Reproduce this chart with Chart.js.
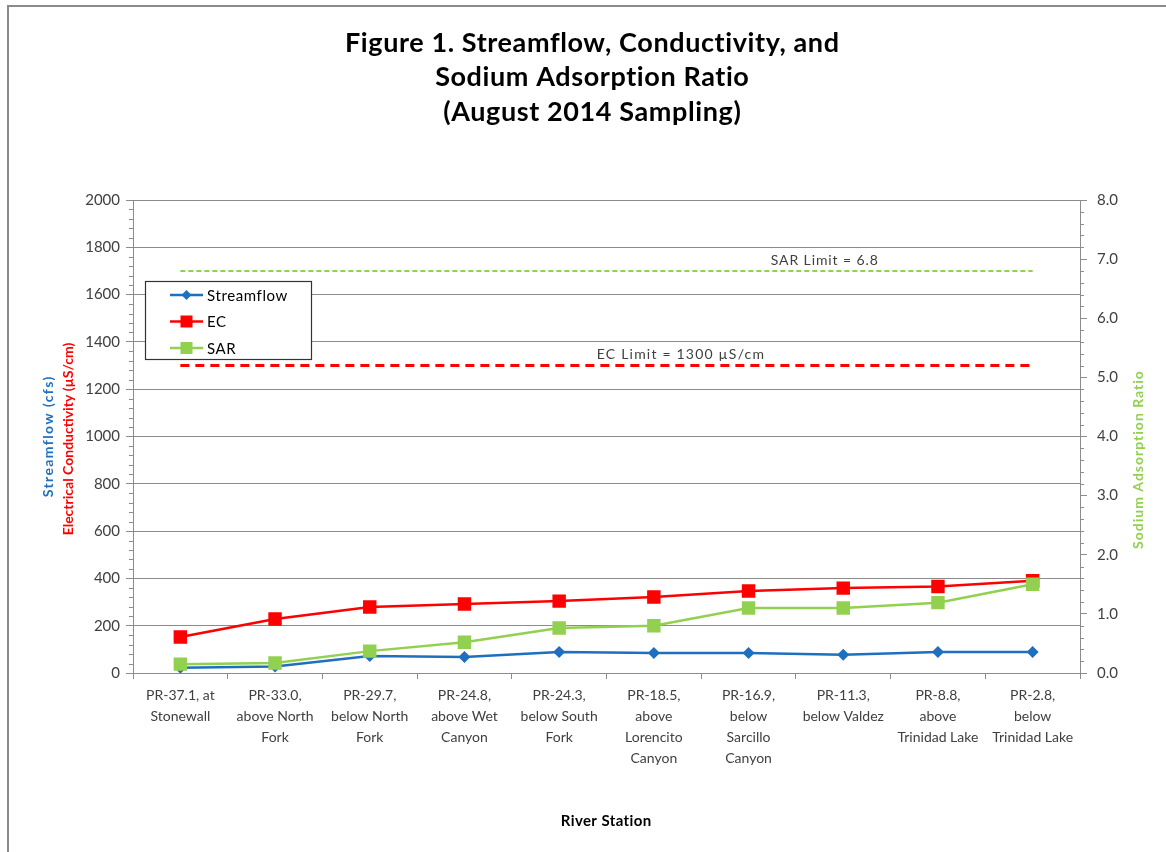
<!DOCTYPE html>
<html><head><meta charset="utf-8">
<script src="https://cdn.jsdelivr.net/npm/chart.js@4/dist/chart.umd.min.js"></script>
<style>html,body{margin:0;padding:0;background:#fff}#wrap{position:relative;width:1166px;height:852px}</style>
</head><body><div id="wrap"><canvas id="c" width="1166" height="852"></canvas></div>
<script>
const stations = [
  ["PR-37.1, at","Stonewall"],
  ["PR-33.0,","above North","Fork"],
  ["PR-29.7,","below North","Fork"],
  ["PR-24.8,","above Wet","Canyon"],
  ["PR-24.3,","below South","Fork"],
  ["PR-18.5,","above","Lorencito","Canyon"],
  ["PR-16.9,","below","Sarcillo","Canyon"],
  ["PR-11.3,","below Valdez"],
  ["PR-8.8,","above","Trinidad Lake"],
  ["PR-2.8,","below","Trinidad Lake"]
];
const streamflow = [22, 27, 72, 68, 89, 85, 85, 77, 89, 89];
const ec = [152, 228, 279, 292, 304, 321, 347, 359, 366, 390];
const sar = [0.15, 0.17, 0.37, 0.52, 0.76, 0.80, 1.10, 1.10, 1.19, 1.50];
const ecLimit = [1300,1300,1300,1300,1300,1300,1300,1300,1300,1300];
const sarLimit = [6.8,6.8,6.8,6.8,6.8,6.8,6.8,6.8,6.8,6.8];
const titleLines = ["Figure 1. Streamflow, Conductivity, and","Sodium Adsorption Ratio","(August 2014 Sampling)"];

const FONT = "Lato, 'Open Sans', sans-serif";
const BLUE = '#1f6fbf', RED = '#ff0000', GREEN = '#92d050', GRID = '#8c8c8c', TXT = '#404040';

function spaced(ctx, text, x, y, sp) {
  ctx.letterSpacing = sp + 'px';
  ctx.fillText(text, x + sp / 2, y);
  ctx.letterSpacing = '0px';
}

const deco = {
  id: 'deco',
  afterDraw(chart) {
    const ctx = chart.ctx, a = chart.chartArea;
    const y = chart.scales.y, y2 = chart.scales.y2, x = chart.scales.x;
    ctx.save();
    // outer frame (top & left)
    ctx.strokeStyle = '#8a8a8a'; ctx.lineWidth = 2;
    ctx.beginPath(); ctx.moveTo(8, 852); ctx.lineTo(8, 6); ctx.lineTo(1166, 6); ctx.stroke();
    // minor ticks
    ctx.strokeStyle = GRID; ctx.lineWidth = 1;
    for (let v = 0; v <= 2000; v += 40) {
      if (v % 200 === 0) continue;
      const p = Math.round(y.getPixelForValue(v)) + 0.5;
      ctx.beginPath(); ctx.moveTo(a.left - 4, p); ctx.lineTo(a.left, p); ctx.stroke();
    }
    for (let v = 0; v <= 8.001; v += 0.2) {
      const r = Math.round(v * 10) / 10;
      if (Math.abs(r - Math.round(r)) < 0.01) continue;
      const p = Math.round(y2.getPixelForValue(r)) + 0.5;
      ctx.beginPath(); ctx.moveTo(a.right, p); ctx.lineTo(a.right + 4, p); ctx.stroke();
    }
    // title
    ctx.fillStyle = '#000'; ctx.textAlign = 'center'; ctx.textBaseline = 'middle';
    ctx.font = "bold 27px " + FONT;
    titleLines.forEach((t, i) => spaced(ctx, t, 592, 43 + i * 34.5, 0.6));
    // x axis title
    ctx.font = "bold 15px " + FONT; ctx.fillStyle = '#000';
    spaced(ctx, 'River Station', 606, 821, 0.4);
    // y axis titles
    ctx.save(); ctx.translate(48, 437); ctx.rotate(-Math.PI / 2);
    ctx.font = "bold 14px " + FONT; ctx.fillStyle = BLUE; spaced(ctx, 'Streamflow (cfs)', 0, 0, 1.4);
    ctx.restore();
    ctx.save(); ctx.translate(68, 439); ctx.rotate(-Math.PI / 2);
    ctx.font = "bold 14px " + FONT; ctx.fillStyle = RED; spaced(ctx, 'Electrical Conductivity (\u00b5S/cm)', 0, 0, 0);
    ctx.restore();
    ctx.save(); ctx.translate(1138, 460); ctx.rotate(-Math.PI / 2);
    ctx.font = "bold 14px " + FONT; ctx.fillStyle = GREEN; spaced(ctx, 'Sodium Adsorption Ratio', 0, 0, 1);
    ctx.restore();
    // limit labels
    ctx.font = "14px " + FONT; ctx.fillStyle = TXT;
    spaced(ctx, 'SAR Limit = 6.8', x.getPixelForValue(6.8), y2.getPixelForValue(sarLimit[0]) - 10, 0.9);
    spaced(ctx, 'EC Limit = 1300 \u00b5S/cm', x.getPixelForValue(5.28), y.getPixelForValue(ecLimit[0]) - 11, 1.2);
    // legend
    const lx = a.left + 12, ly = a.top + 81, lw = 166, lh = 78;
    ctx.fillStyle = '#fff'; ctx.fillRect(lx, ly, lw, lh);
    ctx.strokeStyle = '#333'; ctx.lineWidth = 1.2; ctx.strokeRect(lx + 0.5, ly + 0.5, lw, lh);
    const items = [[BLUE, 'Streamflow', 'd'], [RED, 'EC', 's'], [GREEN, 'SAR', 's']];
    items.forEach((it, i) => {
      const cy = ly + 14 + i * 26.5;
      ctx.strokeStyle = it[0]; ctx.lineWidth = 2.5;
      ctx.beginPath(); ctx.moveTo(lx + 25, cy); ctx.lineTo(lx + 58, cy); ctx.stroke();
      ctx.fillStyle = it[0];
      const mx = lx + 41.5;
      if (it[2] === 'd') {
        ctx.beginPath(); ctx.moveTo(mx, cy - 5); ctx.lineTo(mx + 5, cy); ctx.lineTo(mx, cy + 5); ctx.lineTo(mx - 5, cy); ctx.closePath(); ctx.fill();
      } else {
        ctx.fillRect(mx - 6, cy - 6, 12, 12);
      }
      ctx.fillStyle = '#000'; ctx.textAlign = 'left'; ctx.font = "15px " + FONT;
      ctx.letterSpacing = '0.6px';
      ctx.fillText(it[1], lx + 62, cy + 1);
      ctx.letterSpacing = '0px';
    });
    ctx.restore();
  }
};

new Chart(document.getElementById('c'), {
  type: 'line',
  data: {
    labels: stations,
    datasets: [
      { label: 'SAR Limit', data: sarLimit, yAxisID: 'y2', borderColor: GREEN, borderWidth: 2, borderDash: [5, 3], pointRadius: 0, fill: false, order: 5 },
      { label: 'EC Limit', data: ecLimit, yAxisID: 'y', borderColor: RED, borderWidth: 3, borderDash: [9, 6], pointRadius: 0, fill: false, order: 4 },
      { label: 'Streamflow', data: streamflow, yAxisID: 'y', borderColor: BLUE, backgroundColor: BLUE, borderWidth: 2.5, pointStyle: 'rectRot', pointRadius: 6, pointBorderWidth: 0, fill: false, order: 3 },
      { label: 'EC', data: ec, yAxisID: 'y', borderColor: RED, backgroundColor: RED, borderWidth: 2.5, pointStyle: 'rect', pointRadius: 9.5, pointBorderWidth: 0, fill: false, order: 2 },
      { label: 'SAR', data: sar, yAxisID: 'y2', borderColor: GREEN, backgroundColor: GREEN, borderWidth: 2.5, pointStyle: 'rect', pointRadius: 9.5, pointBorderWidth: 0, fill: false, order: 1 }
    ]
  },
  options: {
    responsive: false, animation: false,
    layout: { padding: { top: 200, left: 0, right: 0, bottom: 0 } },
    plugins: { legend: { display: false }, title: { display: false }, tooltip: { enabled: false } },
    elements: { line: { tension: 0 } },
    scales: {
      x: {
        offset: true,
        grid: { offset: true, drawOnChartArea: false, color: GRID, tickLength: 6, tickColor: GRID },
        border: { color: GRID, width: 1 },
        ticks: { color: TXT, font: { family: FONT, size: 14, lineHeight: 1.5 }, maxRotation: 0, autoSkip: false, padding: 6 },
        afterFit(s) { s.height = 852 - 673; }
      },
      y: {
        position: 'left', min: 0, max: 2000,
        grid: { color: GRID, lineWidth: 1, tickLength: 7, tickColor: GRID },
        border: { color: GRID },
        ticks: { stepSize: 200, color: TXT, font: { family: FONT, size: 15 }, padding: 6, callback: v => String(v) },
        afterFit(s) { s.width = 133; }
      },
      y2: {
        position: 'right', min: 0, max: 8,
        grid: { drawOnChartArea: false, tickLength: 7, tickColor: GRID },
        border: { color: GRID },
        ticks: { stepSize: 1, color: TXT, font: { family: FONT, size: 15 }, padding: 10, callback: v => Number(v).toFixed(1) },
        afterFit(s) { s.width = 1166 - 1080; }
      }
    }
  },
  plugins: [deco]
});
</script></body></html>
